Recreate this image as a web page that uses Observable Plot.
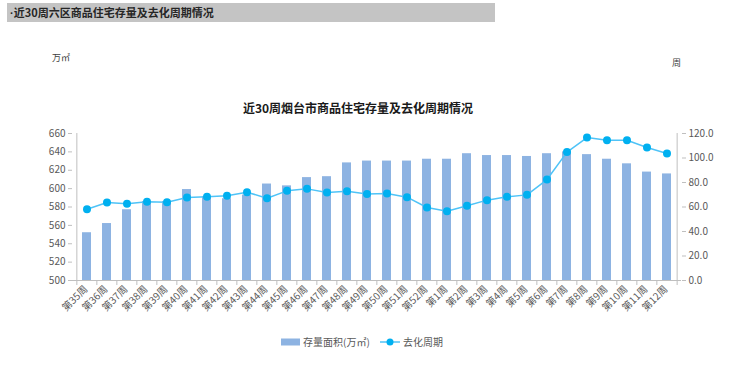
<!DOCTYPE html>
<html>
<head>
<meta charset="utf-8">
<script src="https://cdn.jsdelivr.net/npm/d3@7"></script>
<script src="https://cdn.jsdelivr.net/npm/@observablehq/plot@0.6"></script>
<style>
  html, body { margin: 0; padding: 0; background: #fff; }
  #wrap { position: relative; width: 740px; height: 369px; overflow: hidden; font-family: "Noto Sans CJK SC", "Noto Sans", sans-serif; }
  #header { position: absolute; left: 7px; top: 3px; width: 488px; height: 19px; background: #c4c4c4; }
  #header span { position: absolute; left: 3px; top: 2px; font-size: 11px; font-weight: bold; color: #262626; line-height: 15px; }
  #header b.dot { font-family: "Liberation Sans", sans-serif; margin-right: 0px; }
  #unitL { position: absolute; left: 52px; top: 51px; font-size: 9px; color: #404040; }
  #unitR { position: absolute; left: 672px; top: 56px; font-size: 9px; color: #404040; }
  #title { position: absolute; left: 0; width: 716px; top: 99px; text-align: center; font-size: 12px; font-weight: bold; color: #1a1a1a; }
  #chart { position: absolute; left: 0; top: 0; }
  #legend { position: absolute; left: 0; top: 0; }
</style>
</head>
<body>
<div id="wrap">
  <div id="header"><span><b class="dot">·</b>近30周六区商品住宅存量及去化周期情况</span></div>
  <div id="unitL">万㎡</div>
  <div id="unitR">周</div>
  <div id="title">近30周烟台市商品住宅存量及去化周期情况</div>
  <div id="chart"></div>
  <svg id="legend" width="740" height="369" style="pointer-events:none"></svg>
</div>
<script>
const weeks = ["第35周","第36周","第37周","第38周","第39周","第40周","第41周","第42周","第43周","第44周",
  "第45周","第46周","第47周","第48周","第49周","第50周","第51周","第52周","第1周","第2周",
  "第3周","第4周","第5周","第6周","第7周","第8周","第9周","第10周","第11周","第12周"];
const stockArea = [552,562,577,586,586,599,591,589,593,605,603,612,613,628,630,630,630,632,632,638,636,636,635,638,640,637,632,627,618,616];
const cyclePeriod = [58.2,63.7,62.6,64.2,63.9,67.8,68.3,69.1,72.1,67.2,73.2,74.8,71.8,72.9,70.7,71.0,68.0,59.6,56.6,61.0,65.6,68.3,69.9,82.4,104.8,116.7,114.5,114.5,108.6,103.7];
const leftTicks = [500,520,540,560,580,600,620,640,660];
const rightTicks = [0,20,40,60,80,100,120];
const seriesNames = ["存量面积(万㎡)", "去化周期"];

const leftMin = 500, leftMax = 660, rightMin = 0, rightMax = 120;
const toLeft = v => leftMin + (v - rightMin) * (leftMax - leftMin) / (rightMax - rightMin);
const toRight = v => rightMin + (v - leftMin) * (rightMax - rightMin) / (leftMax - leftMin);

const rows = weeks.map((w, i) => ({week: w, stock: stockArea[i], cycle: cyclePeriod[i], cycleL: toLeft(cyclePeriod[i])}));

const W = 740, H = 369, mL = 72, mR = 59, mT = 133, mB = 89;
const step = (W - mL - mR) / weeks.length;
const pad = 0.55;
const axisGray = "#bfbfbf";
const textGray = "#595959";
const barColor = "#8db3e2";
const lineColor = "#4fc3f7";
const dotColor = "#00b0f0";

const chart = Plot.plot({
  width: W, height: H,
  marginLeft: mL, marginRight: mR, marginTop: mT, marginBottom: mB,
  style: {fontFamily: "'Noto Sans CJK SC', sans-serif", fontSize: "10px", color: textGray, background: "transparent"},
  x: {type: "band", domain: weeks, paddingInner: pad, paddingOuter: pad / 2, axis: null},
  y: {domain: [leftMin, leftMax], axis: null},
  marks: [
    Plot.barY(rows, {x: "week", y1: leftMin, y2: "stock", fill: barColor}),
    Plot.ruleY([leftMin], {stroke: axisGray}),
    Plot.ruleX([weeks[0]], {dx: -step / 2, stroke: axisGray}),
    Plot.ruleX([weeks[weeks.length - 1]], {dx: step / 2, stroke: axisGray}),
    Plot.axisY(leftTicks, {anchor: "left", tickSize: 4, tickPadding: 3, stroke: axisGray, fill: textGray, label: null, tickFormat: d => d}),
    Plot.axisY(rightTicks.map(toLeft), {anchor: "right", tickSize: 4, tickPadding: 3, stroke: axisGray, fill: textGray, label: null, tickFormat: d => toRight(d).toFixed(1)}),
    Plot.axisX(weeks, {anchor: "bottom", tickSize: 5, dx: -step / 2, stroke: axisGray, tickFormat: null, label: null}),
    Plot.axisX([weeks[weeks.length - 1]], {anchor: "bottom", tickSize: 5, dx: step / 2, stroke: axisGray, tickFormat: null, label: null}),
    Plot.axisX(weeks, {anchor: "bottom", tickSize: 0, tickPadding: 7, tickRotate: -45, dx: -1, fill: textGray, label: null, tickFormat: d => d}),
    Plot.line(rows, {x: "week", y: "cycleL", stroke: lineColor, strokeWidth: 1.5}),
    Plot.dot(rows, {x: "week", y: "cycleL", r: 4, fill: dotColor, stroke: "none"})
  ]
});
document.getElementById("chart").appendChild(chart);

const lg = d3.select("#legend");
const ly = 342;
lg.append("rect").attr("x", 281).attr("y", ly - 3.5).attr("width", 19).attr("height", 7).attr("fill", barColor);
lg.append("text").attr("x", 303).attr("y", ly + 4).attr("font-size", 10).attr("fill", textGray)
  .attr("font-family", "'Noto Sans CJK SC', sans-serif").text(seriesNames[0]);
lg.append("line").attr("x1", 380).attr("x2", 400).attr("y1", ly).attr("y2", ly).attr("stroke", lineColor).attr("stroke-width", 1.5);
lg.append("circle").attr("cx", 390).attr("cy", ly).attr("r", 3.5).attr("fill", dotColor);
lg.append("text").attr("x", 403).attr("y", ly + 4).attr("font-size", 10).attr("fill", textGray)
  .attr("font-family", "'Noto Sans CJK SC', sans-serif").text(seriesNames[1]);
</script>
</body>
</html>
